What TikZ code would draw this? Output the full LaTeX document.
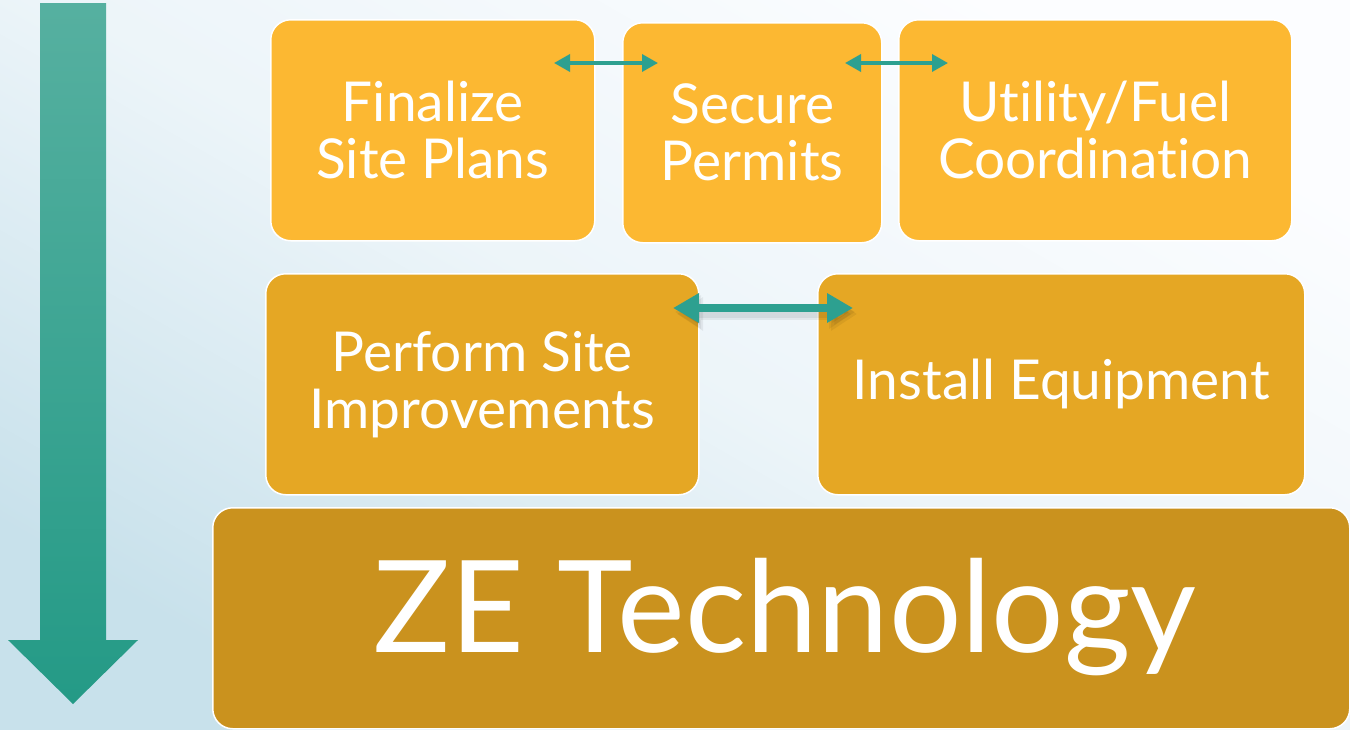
\documentclass[tikz,border=0pt]{standalone}
\usepackage{fontspec}
\setmainfont{Lato}[Ligatures=NoCommon]
\usetikzlibrary{arrows.meta,calc}
\definecolor{boxA}{RGB}{252,184,50}
\definecolor{boxB}{RGB}{229,167,36}
\definecolor{boxC}{RGB}{202,146,30}
\definecolor{tealc}{RGB}{45,160,144}
\definecolor{arrTop}{RGB}{86,176,160}
\definecolor{arrBot}{RGB}{36,154,134}
\definecolor{bgBlue}{RGB}{200,225,235}
\definecolor{bgWhite}{RGB}{252,253,255}
\newcommand{\tfont}{\fontsize{55}{57}\selectfont}
\newcommand{\bigfont}{\fontsize{128}{130}\selectfont}
\begin{document}
\begin{tikzpicture}[x=1pt,y=-1pt,
  stepbox/.style={draw=white, line width=1.5pt, rounded corners=20pt, inner sep=0pt,
    text=white, align=center, anchor=north west, font=\tfont},
  smallarr/.style={draw=tealc, line width=3.5pt,
    {Triangle[length=16pt,width=17pt]}-{Triangle[length=16pt,width=17pt]}},
  bigarr/.style={draw=tealc, line width=8pt,
    {Triangle[length=26pt,width=28pt]}-{Triangle[length=26pt,width=28pt]}},
  shadowarr/.style={draw=black, opacity=0.06, line width=12pt,
    {Triangle[length=26pt,width=32pt]}-{Triangle[length=26pt,width=32pt]}}
]
\useasboundingbox (0,0) rectangle (1350,729);
\begin{scope}
\clip (0,0) rectangle (1350,729);
% background
\shade[top color=bgWhite, bottom color=bgBlue, middle color=bgWhite!70!bgBlue, shading angle=-30] (0,0) rectangle (1350,729);
% big down arrow
\shade[top color=arrTop, bottom color=arrBot]
  (40,3) -- (106,3) -- (106,640) -- (138,640) -- (73,704) -- (8,640) -- (40,640) -- cycle;
% boxes
\node[stepbox, fill=boxA, minimum width=324pt, minimum height=221pt] (fin) at (270,19) {Finalize\\Site Plans};
\node[stepbox, fill=boxA, minimum width=259pt, minimum height=220pt] (sec) at (622,22) {Secure\\Permits};
\node[stepbox, fill=boxA, minimum width=393pt, minimum height=221pt] (uti) at (898,19) {Utility/Fuel\\Coordination};
\node[stepbox, fill=boxB, minimum width=433pt, minimum height=221pt] (per) at (265,273) {Perform Site\\Improvements};
\node[stepbox, fill=boxB, minimum width=487pt, minimum height=221pt] (ins) at (817,273) {Install Equipment};
\node[stepbox, fill=boxC, minimum width=1137pt, minimum height=221pt] (ze) at (212,507) {};
\node[font=\bigfont, text=white, anchor=base, inner sep=0pt] (zet) at (785,652) {ZE Technology};
% connectors
\coordinate (a1s) at (554,63);
\coordinate (a1e) at (658,63);
\coordinate (a2s) at (845,63);
\coordinate (a2e) at (948,63);
\coordinate (a3s) at (673,308);
\coordinate (a3e) at (853,308);
\coordinate (s3s) at (675,312);
\coordinate (s3e) at (855,312);
\coordinate (t3s) at (677,314);
\coordinate (t3e) at (857,314);
\draw[smallarr] (a1s) -- (a1e);
\draw[smallarr] (a2s) -- (a2e);
\draw[shadowarr] (t3s) -- (t3e);
\draw[shadowarr] (s3s) -- (s3e);
\draw[bigarr] (a3s) -- (a3e);
\end{scope}
\end{tikzpicture}
\end{document}
